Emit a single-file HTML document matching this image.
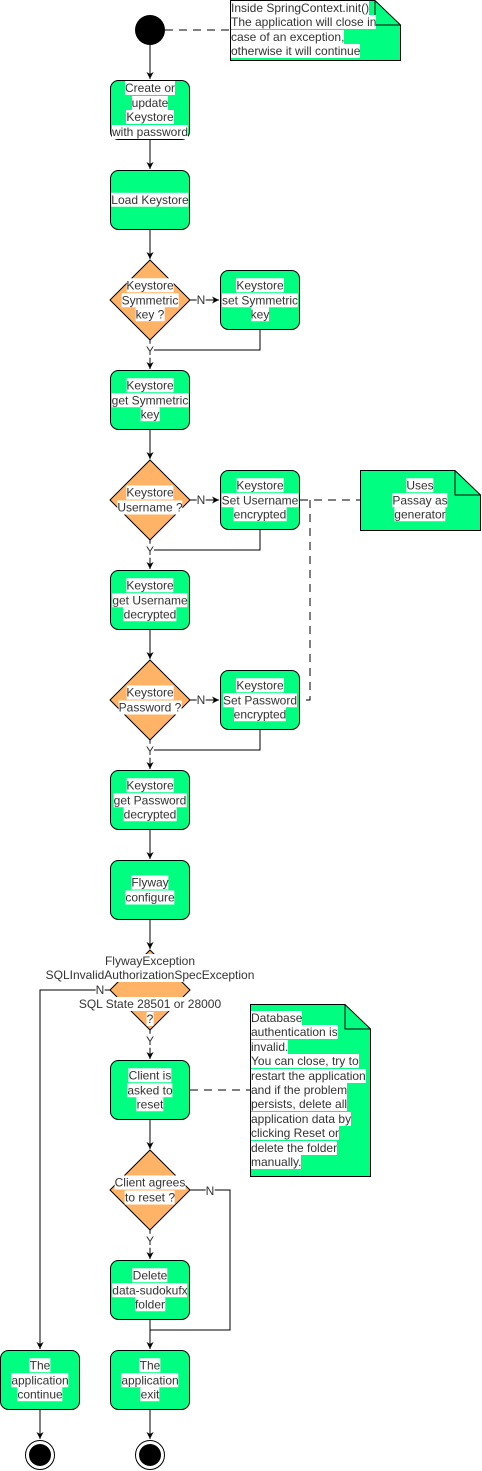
<!DOCTYPE html>
<html><head><meta charset="utf-8"><style>
html,body{margin:0;padding:0;background:#fff;}
body{width:482px;height:1471px;position:relative;overflow:hidden;font-family:"Liberation Sans",Arial,sans-serif;}
svg{position:absolute;left:0;top:0;}
.l{position:absolute;transform:translate(-50%,-50%);text-align:center;white-space:nowrap;font-size:12px;line-height:14.5px;color:#333;}
.l span,.n span{background:#fff;-webkit-box-decoration-break:clone;box-decoration-break:clone;}
.n{position:absolute;text-align:left;white-space:nowrap;font-size:12px;line-height:14.4px;color:#333;}
</style></head><body>
<svg width="482" height="1471" viewBox="0 0 482 1471">
<defs><marker id="a" markerWidth="8" markerHeight="8" refX="7" refY="4" orient="auto" markerUnits="userSpaceOnUse"><path d="M0,0.5 L7,4 L0,7.5 L2,4 Z" fill="#000"/></marker></defs>
<g stroke="#000" stroke-width="1" fill="none">
<!-- dashed -->
<path d="M165,30 H230" stroke-dasharray="8,6"/>
<path d="M300,500 H360" stroke-dasharray="8,6"/>
<path d="M310,500 V700 H300" stroke-dasharray="8,6"/>
<path d="M190,1090 H250" stroke-dasharray="8,6"/>
<!-- main flow -->
<path d="M150,45 V79" marker-end="url(#a)"/>
<path d="M150,140 V169" marker-end="url(#a)"/>
<path d="M150,230 V259" marker-end="url(#a)"/>
<path d="M190,300 H219" marker-end="url(#a)"/>
<path d="M150,340 V369" marker-end="url(#a)"/>
<path d="M260,330 V350 H150"/>
<path d="M150,430 V459" marker-end="url(#a)"/>
<path d="M190,500 H219" marker-end="url(#a)"/>
<path d="M150,540 V569" marker-end="url(#a)"/>
<path d="M260,530 V550 H150"/>
<path d="M150,630 V659" marker-end="url(#a)"/>
<path d="M190,700 H219" marker-end="url(#a)"/>
<path d="M150,740 V769" marker-end="url(#a)"/>
<path d="M260,730 V750 H150"/>
<path d="M150,830 V859" marker-end="url(#a)"/>
<path d="M150,920 V949" marker-end="url(#a)"/>
<path d="M110,990 H40 V1349" marker-end="url(#a)"/>
<path d="M150,1030 V1059" marker-end="url(#a)"/>
<path d="M150,1120 V1149" marker-end="url(#a)"/>
<path d="M150,1230 V1259" marker-end="url(#a)"/>
<path d="M190,1190 H230 V1330 H150"/>
<path d="M150,1320 V1349" marker-end="url(#a)"/>
<path d="M40,1410 V1439" marker-end="url(#a)"/>
<path d="M150,1410 V1439" marker-end="url(#a)"/>
</g>
<circle cx="150" cy="30" r="15" fill="#000"/>
<g fill="#00ff80" stroke="#000" stroke-width="1">
<path d="M230.5,0.5 H375 L400.5,25 V60.5 H230.5 Z"/>
<path d="M360.5,470.5 H455 L480.5,495 V530.5 H360.5 Z"/>
<path d="M250.5,1004.5 H345 L370.5,1029 V1176.5 H250.5 Z"/>
<rect x="110.5" y="80.5" width="79" height="59" rx="8"/>
<rect x="110.5" y="170.5" width="79" height="59" rx="8"/>
<rect x="220.5" y="270.5" width="79" height="59" rx="8"/>
<rect x="110.5" y="370.5" width="79" height="59" rx="8"/>
<rect x="220.5" y="470.5" width="79" height="59" rx="8"/>
<rect x="110.5" y="570.5" width="79" height="59" rx="8"/>
<rect x="220.5" y="670.5" width="79" height="59" rx="8"/>
<rect x="110.5" y="770.5" width="79" height="59" rx="8"/>
<rect x="110.5" y="860.5" width="79" height="59" rx="8"/>
<rect x="110.5" y="1060.5" width="79" height="59" rx="8"/>
<rect x="110.5" y="1260.5" width="79" height="59" rx="8"/>
<rect x="0.5" y="1350.5" width="79" height="59" rx="8"/>
<rect x="110.5" y="1350.5" width="79" height="59" rx="8"/>
</g>
<g fill="none" stroke="#000"><path d="M375,0.5 V25 H400.5"/><path d="M455,470.5 V495 H480.5"/><path d="M345,1004.5 V1029 H370.5"/></g>
<g fill="#ffb366" stroke="#000" stroke-width="1">
<path d="M150,260 L190,300 L150,340 L110,300 Z"/>
<path d="M150,460 L190,500 L150,540 L110,500 Z"/>
<path d="M150,660 L190,700 L150,740 L110,700 Z"/>
<path d="M150,950 L190,990 L150,1030 L110,990 Z"/>
<path d="M150,1150 L190,1190 L150,1230 L110,1190 Z"/>
</g>
<g><circle cx="40" cy="1455" r="14.5" fill="#fff" stroke="#000"/><circle cx="40" cy="1455" r="11" fill="#000"/>
<circle cx="150" cy="1455" r="14.5" fill="#fff" stroke="#000"/><circle cx="150" cy="1455" r="11" fill="#000"/></g>
</svg>

<div class="n" style="left:231px;top:1px"><span>Inside SpringContext.init()<br>The application will close in<br>case of an exception,<br>otherwise it will continue</span></div>
<div class="l" style="left:150px;top:110px"><span>Create or<br>update<br>Keystore<br>with password</span></div>
<div class="l" style="left:150px;top:200px"><span>Load Keystore</span></div>
<div class="l" style="left:150px;top:300px"><span>Keystore<br>Symmetric<br>key ?</span></div>
<div class="l" style="left:260px;top:300px"><span>Keystore<br>set Symmetric<br>key</span></div>
<div class="l" style="left:150px;top:400px"><span>Keystore<br>get Symmetric<br>key</span></div>
<div class="l" style="left:150px;top:500px"><span>Keystore<br>Username ?</span></div>
<div class="l" style="left:260px;top:500px"><span>Keystore<br>Set Username<br>encrypted</span></div>
<div class="l" style="left:420px;top:500px"><span>Uses<br>Passay as<br>generator</span></div>
<div class="l" style="left:150px;top:600px"><span>Keystore<br>get Username<br>decrypted</span></div>
<div class="l" style="left:150px;top:700px"><span>Keystore<br>Password ?</span></div>
<div class="l" style="left:260px;top:700px"><span>Keystore<br>Set Password<br>encrypted</span></div>
<div class="l" style="left:150px;top:800px"><span>Keystore<br>get Password<br>decrypted</span></div>
<div class="l" style="left:150px;top:890px"><span>Flyway<br>configure</span></div>
<div class="l" style="left:150px;top:990px;line-height:14.4px"><span>FlywayException<br>SQLInvalidAuthorizationSpecException</span><br>&nbsp;<br><span>SQL State 28501 or 28000<br>?</span></div>
<div class="n" style="left:251px;top:1011px"><span>Database<br>authentication is<br>invalid.<br>You can close, try to<br>restart the application<br>and if the problem<br>persists, delete all<br>application data by<br>clicking Reset or<br>delete the folder<br>manually.</span></div>
<div class="l" style="left:150px;top:1090px"><span>Client is<br>asked to<br>reset</span></div>
<div class="l" style="left:150px;top:1190px"><span>Client agrees<br>to reset ?</span></div>
<div class="l" style="left:150px;top:1290px"><span>Delete<br>data-sudokufx<br>folder</span></div>
<div class="l" style="left:40px;top:1380px"><span>The<br>application<br>continue</span></div>
<div class="l" style="left:150px;top:1380px"><span>The<br>application<br>exit</span></div>

<div class="l" style="left:201px;top:300px"><span>N</span></div>
<div class="l" style="left:201px;top:500px"><span>N</span></div>
<div class="l" style="left:201px;top:700px"><span>N</span></div>
<div class="l" style="left:150px;top:351px"><span>Y</span></div>
<div class="l" style="left:150px;top:551px"><span>Y</span></div>
<div class="l" style="left:150px;top:751px"><span>Y</span></div>
<div class="l" style="left:100px;top:990px"><span>N</span></div>
<div class="l" style="left:150px;top:1041px"><span>Y</span></div>
<div class="l" style="left:210px;top:1191px"><span>N</span></div>
<div class="l" style="left:150px;top:1241px"><span>Y</span></div>
</body></html>
